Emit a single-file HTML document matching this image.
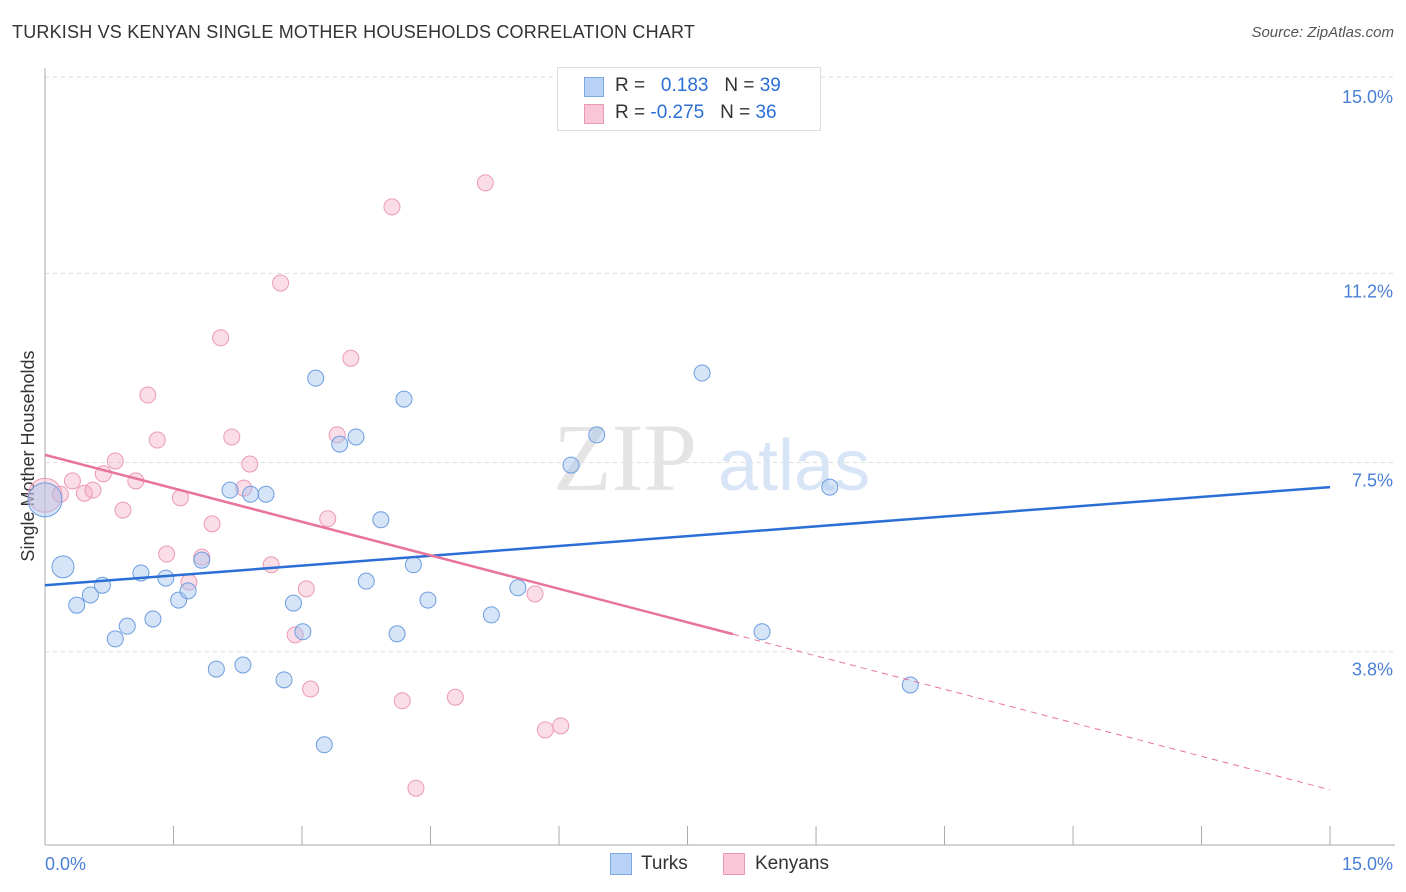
<!DOCTYPE html>
<html><head><meta charset="utf-8">
<style>
body{margin:0;background:#fff;font-family:"Liberation Sans",sans-serif;}
#wrap{position:relative;width:1406px;height:892px;overflow:hidden;}
.t{position:absolute;white-space:nowrap;}
</style></head>
<body>
<div id="wrap">
<div class="t" style="left:12px;top:22px;font-size:18px;color:#333;letter-spacing:0.2px">TURKISH VS KENYAN SINGLE MOTHER HOUSEHOLDS CORRELATION CHART</div>
<div class="t" style="right:12px;top:24px;font-size:15px;color:#555;font-style:italic">Source: ZipAtlas.com</div>
<svg id="svg" width="1406" height="892" style="position:absolute;left:0;top:0"></svg>
</div>
<script>
const turksX=[0,0.21,0.37,0.53,0.67,0.82,0.96,1.12,1.26,1.41,1.56,1.67,1.83,2.0,2.16,2.31,2.40,2.58,2.79,2.90,3.01,3.16,3.26,3.44,3.63,3.75,3.92,4.11,4.19,4.30,4.47,5.21,5.52,6.14,6.44,7.67,8.37,9.16,10.10];
const turksY=[6.77,5.46,4.71,4.91,5.10,4.05,4.30,5.34,4.44,5.24,4.81,4.99,5.59,3.46,6.96,3.54,6.88,6.88,3.25,4.75,4.19,9.15,1.98,7.86,8.0,5.18,6.38,4.15,8.74,5.50,4.81,4.52,5.05,7.45,8.04,9.25,4.19,7.02,3.15];
const kenX=[0,0.18,0.32,0.46,0.56,0.68,0.82,0.91,1.06,1.20,1.31,1.42,1.58,1.68,1.83,1.95,2.05,2.18,2.32,2.39,2.64,2.75,2.92,3.05,3.10,3.30,3.41,3.57,4.05,4.17,4.33,4.79,5.14,5.72,5.84,6.02];
const kenY=[6.86,6.88,7.14,6.90,6.96,7.28,7.53,6.57,7.14,8.82,7.94,5.71,6.81,5.16,5.65,6.30,9.94,8.0,7.0,7.47,5.50,11.01,4.13,5.03,3.07,6.40,8.04,9.54,12.50,2.84,1.13,2.91,12.97,4.93,2.27,2.35];
const turksLine=[5.10,7.02];
const kenLine=[7.65,1.10];
const kenSolidEnd=8.03;
const yTicks=[3.8,7.5,11.2,15.0];
const xTickLabels=["0.0%","15.0%"];

const svg=document.getElementById('svg');
const NS='http://www.w3.org/2000/svg';
const X=v=>45+v*85.67;
const Y=v=>846-v*51.13;
function mk(tag,attrs){const e=document.createElementNS(NS,tag);for(const k in attrs)e.setAttribute(k,attrs[k]);svg.appendChild(e);return e;}

// gridlines + y labels
yTicks.forEach(v=>{
  const g=mk('line',{x1:45,x2:1395,y1:Y(v)-(v==15?2:0),y2:Y(v)-(v==15?2:0),stroke:'#ddd','stroke-dasharray':'4,4'});
  
  
  const t=mk('text',{x:1393,y:Y(v)+24,'text-anchor':'end','font-size':18,fill:'#4a7fd6'});
  t.textContent=v.toFixed(1)+'%';
  
  
});
// axes
const ax=mk('line',{x1:45,x2:1395,y1:845,y2:845,stroke:'#aaa'});


const ay=mk('line',{x1:45,x2:45,y1:68,y2:845,stroke:'#aaa'});


for(let i=0;i<=10;i++){
  const tk=mk('line',{x1:X(i*1.5),x2:X(i*1.5),y1:826,y2:845,stroke:'#aaa'});
  
  
}
const xl0=mk('text',{x:45,y:870,'font-size':18,fill:'#4a7fd6'});xl0.textContent=xTickLabels[0];


const xl1=mk('text',{x:1393,y:870,'text-anchor':'end','font-size':18,fill:'#4a7fd6'});xl1.textContent=xTickLabels[1];


const yt=mk('text',{x:34,y:456,'text-anchor':'middle','font-size':18,fill:'#333',transform:'rotate(-90 34 456)'});yt.textContent='Single Mother Households';


// watermark
const w1=mk('text',{x:553,y:490,'font-size':96,fill:'#e4e4e4','font-family':'Liberation Serif,serif'});w1.textContent='ZIP';


const w2=mk('text',{x:718,y:490,'font-size':72,fill:'#d8e5f6'});w2.textContent='atlas';



// points
kenX.forEach((v,i)=>{
  const c=mk('circle',{cx:X(v),cy:Y(kenY[i]),r:i==0?17:8,fill:'rgba(245,170,195,0.4)',stroke:'#eb9ab5','stroke-width':1});
  
  
});
turksX.forEach((v,i)=>{
  const c=mk('circle',{cx:X(v),cy:Y(turksY[i]),r:i==0?17:(i==1?11:8),fill:'rgba(165,195,240,0.45)',stroke:'#6d9de0','stroke-width':1});
  
  
});
// trend lines
const bl=mk('line',{x1:X(0),y1:Y(turksLine[0]),x2:X(15),y2:Y(turksLine[1]),stroke:'#2b6fd6','stroke-width':2.5});


const kAt=x=>kenLine[0]+(kenLine[1]-kenLine[0])*x/15;
const pl=mk('line',{x1:X(0),y1:Y(kenLine[0]),x2:X(kenSolidEnd),y2:Y(kAt(kenSolidEnd)),stroke:'#e8739b','stroke-width':2.5});


const pd=mk('line',{x1:X(kenSolidEnd),y1:Y(kAt(kenSolidEnd)),x2:X(15),y2:Y(kenLine[1]),stroke:'#e8739b','stroke-width':1,'stroke-dasharray':'6,5'});


</script>
<div class="t" style="left:557px;top:67px;width:262px;height:62px;border:1px solid #ddd;background:#fff">
  <div class="t" style="left:26px;top:9px;width:18px;height:18px;background:#b8d1f5;border:1px solid #7ea7e3"></div>
  <div class="t" style="left:57px;top:7px;font-size:19px;color:#333">R = <span style="color:#2b6fd6">&nbsp;&nbsp;0.183</span>&nbsp;&nbsp;&nbsp;N = <span style="color:#2b6fd6">39</span></div>
  <div class="t" style="left:26px;top:36px;width:18px;height:18px;background:#f8c6d6;border:1px solid #eb9ab5"></div>
  <div class="t" style="left:57px;top:34px;font-size:19px;color:#333">R = <span style="color:#2b6fd6">-0.275</span>&nbsp;&nbsp;&nbsp;N = <span style="color:#2b6fd6">36</span></div>
</div>
<div class="t" style="left:610px;top:853px;width:20px;height:20px;background:#b8d1f5;border:1px solid #7ea7e3"></div>
<div class="t" style="left:641px;top:853px;font-size:19px;color:#333">Turks</div>
<div class="t" style="left:723px;top:853px;width:20px;height:20px;background:#f8c6d6;border:1px solid #eb9ab5"></div>
<div class="t" style="left:755px;top:853px;font-size:19px;color:#333">Kenyans</div>
</body></html>
